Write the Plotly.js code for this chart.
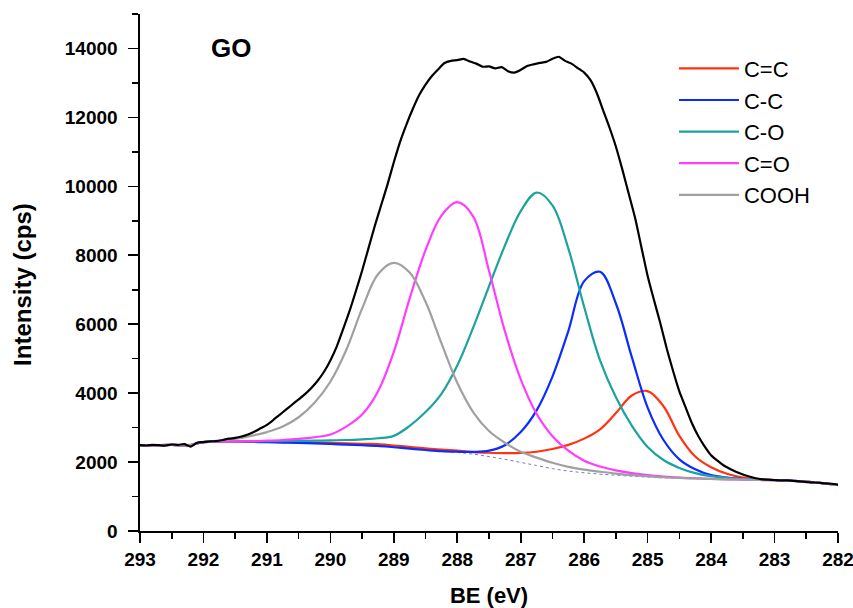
<!DOCTYPE html>
<html>
<head>
<meta charset="utf-8">
<script src="https://cdn.plot.ly/plotly-3.0.1.min.js"></script>
<style>html,body{margin:0;padding:0;background:#fff;}#chart{width:853px;height:608px;}</style>
</head>
<body>
<div id="chart"></div>
<script>
// Measured envelope (raw spectrum), 0.1 eV steps
const be_fine = [293.0,292.9,292.8,292.7,292.6,292.5,292.4,292.3,292.2,292.1,
  292.0,291.9,291.8,291.7,291.6,291.5,291.4,291.3,291.2,291.1,
  291.0,290.9,290.8,290.7,290.6,290.5,290.4,290.3,290.2,290.1,
  290.0,289.9,289.8,289.7,289.6,289.5,289.4,289.3,289.2,289.1,
  289.0,288.9,288.8,288.7,288.6,288.5,288.4,288.3,288.2,288.1,
  288.0,287.9,287.8,287.7,287.6,287.5,287.4,287.3,287.2,287.1,
  287.0,286.9,286.8,286.7,286.6,286.5,286.4,286.3,286.2,286.1,
  286.0,285.9,285.8,285.7,285.6,285.5,285.4,285.3,285.2,285.1,
  285.0,284.9,284.8,284.7,284.6,284.5,284.4,284.3,284.2,284.1,
  284.0,283.9,283.8,283.7,283.6,283.5,283.4,283.3,283.2,283.1,
  283.0,282.9,282.8,282.7,282.6,282.5,282.4,282.3,282.2,282.1,
  282.0];
const envelope = [2490,2480,2500,2490,2480,2510,2500,2520,2450,2560,
  2580,2600,2610,2640,2680,2700,2740,2800,2880,2980,
  3080,3220,3370,3520,3670,3820,3970,4150,4360,4620,
  4950,5350,5850,6370,6950,7550,8200,8850,9450,10050,
  10700,11300,11800,12250,12650,12950,13200,13400,13580,13640,
  13660,13700,13620,13560,13470,13480,13420,13460,13340,13300,
  13380,13490,13540,13580,13610,13700,13760,13640,13560,13430,
  13300,13080,12700,12200,11700,11150,10500,9800,9100,8250,
  7400,6700,6030,5300,4650,4050,3580,3120,2750,2450,
  2200,2040,1900,1800,1710,1640,1580,1530,1500,1490,
  1480,1470,1470,1450,1440,1420,1410,1400,1380,1370,
  1340];

// Fitted components, 0.25 eV steps
const be = [293,292.75,292.5,292.25,292,291.75,291.5,291.25,291,290.75,
  290.5,290.25,290,289.75,289.5,289.25,289,288.75,288.5,288.25,
  288,287.75,287.5,287.25,287,286.75,286.5,286.25,286,285.75,
  285.5,285.25,285,284.75,284.5,284.25,284,283.75,283.5,283.25,
  283,282.75,282.5,282.25,282];
const background = [2480,2490,2500,2480,2580,2590,2590,2590,2580,2580,
  2570,2560,2550,2540,2525,2500,2460,2420,2380,2330,
  2280,2230,2160,2080,1990,1900,1810,1740,1690,1650,
  1620,1590,1565,1545,1530,1520,1510,1500,1490,1480,
  1475,1460,1430,1390,1340];
const cc_double = [2480,2490,2500,2480,2580,2590,2590,2590,2585,2580,
  2575,2565,2555,2545,2530,2520,2480,2440,2400,2360,
  2330,2290,2270,2260,2265,2300,2380,2500,2680,2950,
  3420,3930,4060,3620,2760,2160,1850,1660,1550,1505,
  1480,1460,1430,1390,1340];
const cc_single = [2480,2490,2500,2480,2580,2590,2590,2585,2575,2565,
  2555,2540,2525,2505,2490,2470,2430,2390,2350,2315,
  2300,2295,2330,2490,2870,3500,4480,5800,7250,7520,
  6600,5050,3580,2640,2080,1790,1620,1550,1510,1490,
  1475,1460,1430,1390,1340];
const c_o = [2480,2490,2500,2480,2580,2590,2595,2600,2605,2610,
  2615,2620,2630,2640,2660,2690,2760,3050,3450,3980,
  4800,5900,7100,8280,9280,9820,9450,8200,6500,4950,
  3880,3060,2440,2060,1830,1680,1590,1540,1505,1485,
  1475,1460,1430,1390,1340];
const c_double_o = [2480,2490,2500,2480,2580,2590,2595,2605,2620,2640,
  2670,2720,2800,3030,3380,4050,5200,6750,8150,9150,
  9540,9130,7550,5800,4400,3400,2750,2330,2040,1870,
  1760,1680,1620,1580,1550,1530,1515,1500,1490,1480,
  1475,1460,1430,1390,1340];
const cooh = [2480,2490,2500,2490,2590,2620,2670,2760,2870,3030,
  3300,3720,4330,5250,6450,7450,7780,7500,6650,5450,
  4300,3450,2900,2560,2300,2130,1980,1860,1780,1720,
  1665,1620,1590,1560,1540,1525,1510,1500,1490,1480,
  1475,1460,1430,1390,1340];

const names = ['C=C','C-C','C-O','C=O','COOH'];
const series = [cc_double, cc_single, c_o, c_double_o, cooh];
const colors = ['#ff3311','#0a2cff','#1ba39f','#ff3cff','#a0a0a0'];

const FONT = 'Liberation Sans, Arial, sans-serif';

const traces = [];
traces.push({x: be, y: background, mode: 'lines', showlegend: false, hoverinfo: 'skip',
  line: {color: '#7a7ad0', width: 1, dash: 'dot', shape: 'spline'}});
series.forEach((s, i) => {
  traces.push({x: be, y: s, name: names[i], legendgroup: 'g' + i, mode: 'lines',
    line: {color: colors[i], width: 2.2, shape: 'spline', smoothing: 1}});
});
traces.push({x: be_fine, y: envelope, mode: 'lines', showlegend: false,
  line: {color: '#000000', width: 2.2, shape: 'spline', smoothing: 0.6}});

const axisCommon = {
  showgrid: false, zeroline: false, showline: true, linecolor: '#000', linewidth: 1.6,
  ticks: 'outside', ticklen: 10, tickwidth: 1.6, tickcolor: '#000',
  tickfont: {family: FONT, size: 19, color: '#000', weight: 'bold'},
  tickformat: 'd', ticklabeloverflow: 'allow',
  automargin: false, mirror: false
};

const layout = {
  width: 853, height: 608,
  paper_bgcolor: '#fff', plot_bgcolor: '#fff',
  margin: {l: 140, r: 15, t: 14, b: 77},
  font: {family: FONT, color: '#000'},
  xaxis: Object.assign({}, axisCommon, {
    range: [293, 282], autorange: false, tick0: 282, dtick: 1, ticklabelstandoff: 1,
    minor: {dtick: 0.5, ticks: 'outside', ticklen: 6, tickwidth: 1.6, tickcolor: '#000', showgrid: false},
    title: {text: 'BE (eV)', font: {family: FONT, size: 22, color: '#000', weight: 'bold'}, standoff: 22}
  }),
  yaxis: Object.assign({}, axisCommon, {
    range: [0, 15000], autorange: false, tick0: 0, dtick: 2000, ticklabelstandoff: 7,
    minor: {dtick: 1000, ticks: 'outside', ticklen: 6, tickwidth: 1.6, tickcolor: '#000', showgrid: false},
    title: {text: ''}
  }),
  showlegend: true,
  legend: {x: 0.765, y: 0.935, xanchor: 'left', yanchor: 'top', bgcolor: 'rgba(0,0,0,0)',
    font: {family: FONT, size: 22, color: '#000'}, tracegroupgap: 0, itemwidth: 60},
  annotations: [
    {text: 'GO', xref: 'paper', yref: 'paper', x: 0.130, y: 0.935,
      xanchor: 'center', yanchor: 'middle', showarrow: false,
      font: {family: FONT, size: 26, color: '#000', weight: 'bold'}},
    {text: 'Intensity (cps)', xref: 'paper', yref: 'paper', x: -0.1676, y: 0.476,
      xanchor: 'center', yanchor: 'middle', showarrow: false, textangle: -90,
      font: {family: FONT, size: 24, color: '#000', weight: 'bold'}}
  ]
};

Plotly.newPlot('chart', traces, layout, {displayModeBar: false, staticPlot: true});
</script>
</body>
</html>
